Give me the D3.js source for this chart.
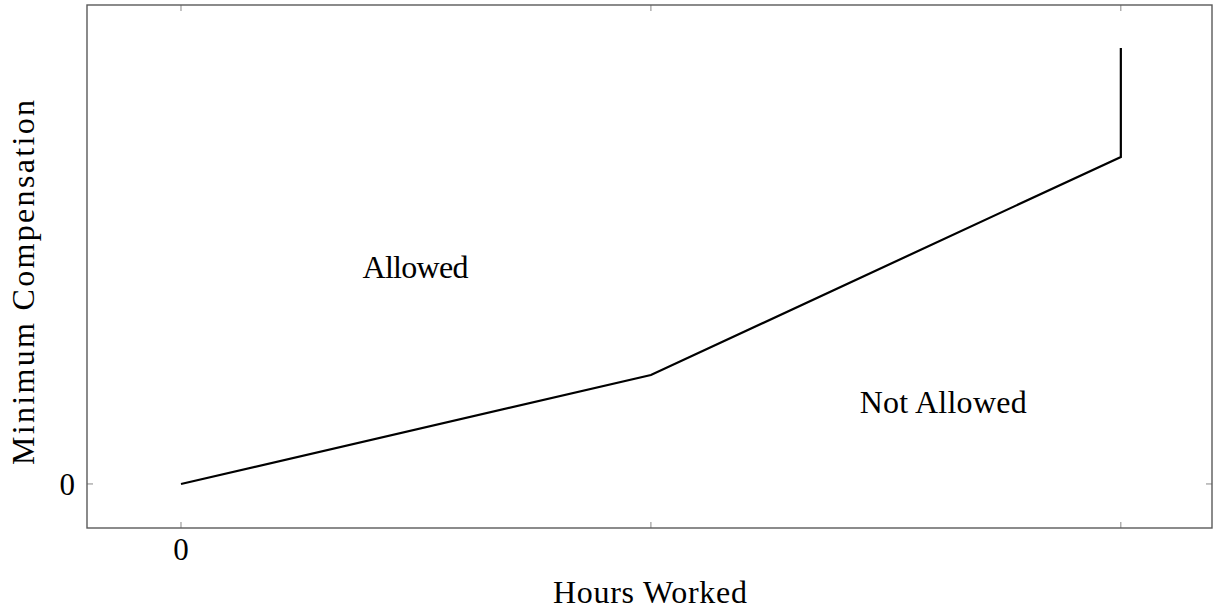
<!DOCTYPE html>
<html>
<head>
<meta charset="utf-8">
<script src="https://cdn.jsdelivr.net/npm/d3@7"></script>
<style>
  body { margin: 0; background: white; }
  text { font-family: "Liberation Serif", "DejaVu Serif", serif; fill: #000; }
</style>
</head>
<body>
<svg id="chart" width="1213" height="609"></svg>
<script>
// data
const hours = [0, 1, 2, 2]
const comp = [0, 1, 3, 4]
const xTicks = [0, 1, 2]
const yTicks = [0]
const xTickLabels = ["0", "", ""]
const yTickLabels = ["0"]
const regionLabels = [
    { text: "Allowed", x: 0.499, y: 1.89, w: 106 },
    { text: "Not Allowed", x: 1.622, y: 0.65, w: 167 }
]

const svg = d3.select("#chart")
const pLeft = 87, pRight = 1212, pTop = 5, pBottom = 528

const x = d3.scaleLinear().domain([-0.2, 2.194]).range([pLeft, pRight])
const y = d3.scaleLinear().domain([-0.404, 4.394]).range([pBottom, pTop])

const frameColor = "#5a5a5a"

// ticks (inward, both sides)
svg.selectAll(".xtick-b").data(xTicks).enter().append("line")
    .attr("x1", d => x(d)).attr("x2", d => x(d))
    .attr("y1", pBottom).attr("y2", pBottom - 6)
    .attr("stroke", "#888").attr("stroke-width", 1)
svg.selectAll(".xtick-t").data(xTicks).enter().append("line")
    .attr("x1", d => x(d)).attr("x2", d => x(d))
    .attr("y1", pTop).attr("y2", pTop + 6)
    .attr("stroke", "#888").attr("stroke-width", 1)
svg.selectAll(".ytick-l").data(yTicks).enter().append("line")
    .attr("x1", pLeft).attr("x2", pLeft + 6)
    .attr("y1", d => y(d)).attr("y2", d => y(d))
    .attr("stroke", "#888").attr("stroke-width", 1)
svg.selectAll(".ytick-r").data(yTicks).enter().append("line")
    .attr("x1", pRight).attr("x2", pRight - 6)
    .attr("y1", d => y(d)).attr("y2", d => y(d))
    .attr("stroke", "#888").attr("stroke-width", 1)

// frame
svg.append("rect")
    .attr("x", pLeft).attr("y", pTop)
    .attr("width", pRight - pLeft).attr("height", pBottom - pTop)
    .attr("fill", "none")
    .attr("stroke", frameColor)
    .attr("stroke-width", 1.4)

// tick labels
svg.selectAll(".xlab").data(xTicks).enter().append("text")
    .attr("x", d => x(d)).attr("y", 560)
    .attr("text-anchor", "middle")
    .style("font-size", "31px")
    .text((d, i) => xTickLabels[i])
svg.selectAll(".ylab").data(yTicks).enter().append("text")
    .attr("x", 75).attr("y", d => y(d) + 11)
    .attr("text-anchor", "end")
    .style("font-size", "31px")
    .text((d, i) => yTickLabels[i])

// line
const line = d3.line().x(d => x(d[0])).y(d => y(d[1]))
svg.append("path")
    .datum(hours.map((h, i) => [h, comp[i]]))
    .attr("d", line)
    .attr("fill", "none")
    .attr("stroke", "black")
    .attr("stroke-width", 2.2)

// region labels
svg.selectAll(".region").data(regionLabels).enter().append("text")
    .attr("x", d => x(d.x) - d.w / 2).attr("y", d => y(d.y))
    .attr("textLength", d => d.w)
    .attr("lengthAdjust", "spacing")
    .style("font-size", "32px")
    .text(d => d.text)

// axis titles
svg.append("text")
    .attr("x", 553).attr("y", 603)
    .attr("textLength", 194)
    .attr("lengthAdjust", "spacing")
    .style("font-size", "32px")
    .text("Hours Worked")
svg.append("text")
    .attr("transform", "translate(34,465) rotate(-90)")
    .attr("textLength", 365)
    .attr("lengthAdjust", "spacing")
    .style("font-size", "32px")
    .text("Minimum Compensation")
</script>
</body>
</html>
